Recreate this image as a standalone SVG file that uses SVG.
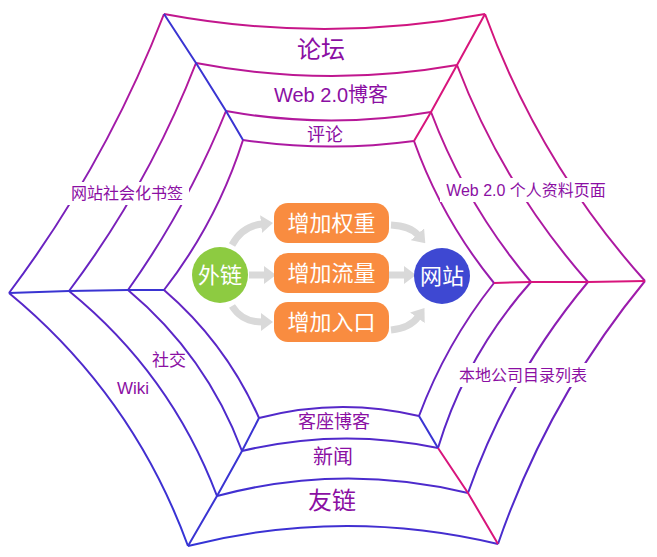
<svg xmlns="http://www.w3.org/2000/svg" width="657" height="557" viewBox="0 0 657 557">
<style>
.edge{fill:none;stroke:url(#webg);stroke-width:2;stroke-linejoin:round}
.sb{fill:none;stroke:#3a34d2;stroke-width:2}
.sp{fill:none;stroke:#d8157c;stroke-width:2}
.lbl{fill:#8b0fa3;font-family:"Liberation Sans","Noto Sans CJK SC",sans-serif;text-anchor:middle}
.wt{fill:#fff;font-family:"Liberation Sans","Noto Sans CJK SC",sans-serif;text-anchor:middle;font-size:22px}
.box{fill:#f98c40}
.arr{fill:none;stroke:#d9d9d9;stroke-width:7;marker-end:url(#ah)}
</style>
<defs>
<linearGradient id="webg" gradientUnits="userSpaceOnUse" x1="420" y1="0" x2="240" y2="560">
<stop offset="0" stop-color="#d6147a"/>
<stop offset="0.35" stop-color="#a51aa8"/>
<stop offset="0.65" stop-color="#5c25c6"/>
<stop offset="1" stop-color="#3434d6"/>
</linearGradient>
<marker id="ah" viewBox="0 0 12 18" refX="1" refY="9" markerWidth="12" markerHeight="18" markerUnits="userSpaceOnUse" orient="auto">
<path d="M0,0 L12,9 L0,18 z" fill="#d9d9d9"/>
</marker>
</defs>
<rect width="657" height="557" fill="#fff"/>
<g id="web">
<path class="edge" d="M164,14 Q324.5,44 485,14"/>
<path class="edge" d="M196,63 Q326.5,88 457,65"/>
<path class="edge" d="M226,111 Q328.5,129.5 431,112"/>
<path class="edge" d="M243,140 Q328.5,152.5 414,141"/>
<path class="edge" d="M188,546 Q343,507 498,544"/>
<path class="edge" d="M217,496 Q342.5,462.5 468,493"/>
<path class="edge" d="M242,451 Q340,427.5 438,448"/>
<path class="edge" d="M259,418 Q339,397 419,416"/>
<path class="edge" d="M9,293 Q105.7,164.2 164,14"/>
<path class="edge" d="M69,291 Q148.2,185.8 196,63"/>
<path class="edge" d="M128,290 Q187.5,206.3 226,111"/>
<path class="edge" d="M164,290 Q216.8,222 243,140"/>
<path class="edge" d="M9,293 Q132.8,395.2 188,546"/>
<path class="edge" d="M69,291 Q170.6,373.6 217,496"/>
<path class="edge" d="M128,290 Q206.2,355.5 242,451"/>
<path class="edge" d="M164,290 Q226,343.3 259,418"/>
<path class="edge" d="M485,14 Q539.3,162.9 645,281"/>
<path class="edge" d="M457,65 Q502.8,185.4 588,282"/>
<path class="edge" d="M431,112 Q466.3,205.6 531,282"/>
<path class="edge" d="M414,141 Q441.8,218.9 494,283"/>
<path class="edge" d="M645,281 Q547.9,399.3 498,544"/>
<path class="edge" d="M588,282 Q508.9,376.6 468,493"/>
<path class="edge" d="M531,282 Q466.2,354.7 438,448"/>
<path class="edge" d="M494,283 Q446,343.6 419,416"/>
<path class="sb" d="M164,14 L196,63 L226,111 L243,140"/>
<path class="sp" d="M485,14 L457,65 L431,112 L414,141"/>
<path class="sp" d="M645,281 L588,282 L531,282 L494,283"/>
<path class="sb" d="M419,416 L438,448"/>
<path class="sp" d="M438,448 L468,493 L498,544"/>
<path class="sb" d="M188,546 L217,496 L242,451 L259,418"/>
<path class="sb" d="M9,293 L69,291 L128,290 L164,290"/>
<rect x="67" y="182" width="122" height="23" fill="#fff"/>
<rect x="440" y="178" width="172" height="24" fill="#fff"/>
<rect x="455" y="363" width="137" height="24" fill="#fff"/>
</g>
<g id="labels">
<text class="lbl" x="321" y="58" font-size="24">论坛</text>
<text class="lbl" x="331" y="102" font-size="20">Web 2.0博客</text>
<text class="lbl" x="325" y="141" font-size="18">评论</text>
<text class="lbl" x="127" y="199" font-size="16">网站社会化书签</text>
<text class="lbl" x="526" y="196" font-size="16">Web 2.0 个人资料页面</text>
<text class="lbl" x="523" y="381" font-size="16">本地公司目录列表</text>
<text class="lbl" x="169" y="366" font-size="17">社交</text>
<text class="lbl" x="133" y="394" font-size="17">Wiki</text>
<text class="lbl" x="334" y="428" font-size="18">客座博客</text>
<text class="lbl" x="333" y="464" font-size="20">新闻</text>
<text class="lbl" x="332" y="509" font-size="24">友链</text>
</g>
<g id="connectors">
<path class="arr" d="M232,245 Q242,226 262,224"/>
<path class="arr" d="M249,275 L265,275"/>
<path class="arr" d="M232,306 Q242,322 262,322"/>
<path class="arr" d="M391,225 Q410,226 418,235"/>
<path class="arr" d="M388,275 L405,275"/>
<path class="arr" d="M391,330 Q410,328 418,317"/>
</g>
<g id="node-wailian"><circle cx="220" cy="275" r="28" fill="#8dcb41"/><text class="wt" x="220" y="283">外链</text></g>
<g id="node-wangzhan"><circle cx="442" cy="276" r="28" fill="#3e48d2"/><text class="wt" x="442" y="284">网站</text></g>
<g id="node-quanzhong"><rect class="box" x="274" y="203" width="115" height="40" rx="14"/><text class="wt" x="331.5" y="231">增加权重</text></g>
<g id="node-liuliang"><rect class="box" x="274" y="253" width="115" height="40" rx="14"/><text class="wt" x="331.5" y="281">增加流量</text></g>
<g id="node-rukou"><rect class="box" x="274" y="302" width="115" height="40" rx="14"/><text class="wt" x="331.5" y="330">增加入口</text></g>
</svg>
